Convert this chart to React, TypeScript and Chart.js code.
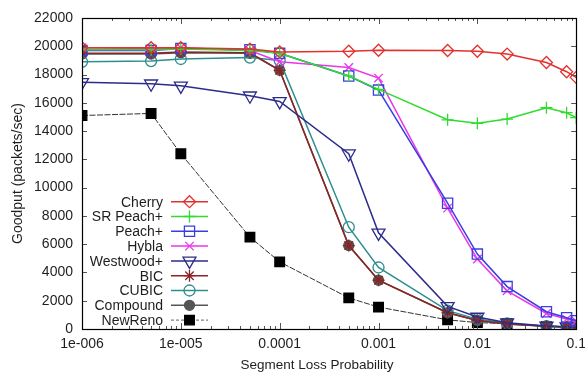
import React, { useEffect, useRef } from "react";
import { Chart, registerables } from "chart.js";
import { drawPoint } from "chart.js/helpers";

Chart.register(...registerables);

// ---- data ----
const lossProb = [1e-6, 5e-6, 1e-5, 5e-5, 1e-4, 5e-4, 1e-3, 5e-3, 1e-2, 2e-2, 5e-2, 8e-2, 1e-1];

const cherry = [19900, 19900, 19900, 19800, 19600, 19650, 19720, 19700, 19650, 19450, 18850, 18200, 17800];
const srPeach = [19750, 19750, 19800, 19700, 19500, 17900, 16950, 14800, 14550, 14850, 15650, 15300, 14950];
const peach = [19700, 19700, 19850, 19750, 19500, 17900, 16900, 8900, 5300, 3000, 1220, 800, 590];
const hybla = [19900, 19850, 19900, 19700, 18900, 18500, 17750, 8550, 4950, 2700, 1100, 700, 560];
const westwood = [17450, 17350, 17200, 16500, 16100, 12400, 6800, 1600, 850, 450, 220, 160, 130];
const bic = [19500, 19500, 19600, 19550, 18300, 5900, 3450, 1150, 600, 350, 200, 150, 120];
const cubic = [18900, 18950, 19100, 19200, 19000, 7200, 4350, 1300, 700, 400, 200, 150, 120];
const compound = [19450, 19450, 19550, 19500, 18300, 5900, 3450, 1150, 600, 350, 200, 150, 120];
const newReno = [15100, 15250, 12400, 6500, 4750, 2200, 1550, 650, 450, 380, 170, 140, 140];

const xTickValues = [1e-6, 1e-5, 1e-4, 1e-3, 1e-2, 1e-1];
const xTickLabels = ["1e-006", "1e-005", "0.0001", "0.001", "0.01", "0.1"];
const yMin = 0;
const yMax = 22000;
const yStep = 2000;
const xTitle = "Segment Loss Probability";
const yTitle = "Goodput (packets/sec)";

const FONT = "'Liberation Sans', Arial, sans-serif";
const TEXT = "#1e1e1e";

type Series = {
  label: string;
  data: number[];
  color: string;
  style: string;
  rotation?: number;
  radius: number;
  filled: boolean;
  width: number;
  dash?: number[];
};

const series: Series[] = [
  { label: "Cherry", data: cherry, color: "#e2322e", style: "rectRot", radius: 6, filled: false, width: 1.5 },
  { label: "SR Peach+", data: srPeach, color: "#2fdc2f", style: "cross", radius: 6, filled: false, width: 1.5 },
  { label: "Peach+", data: peach, color: "#3a3ee0", style: "rect", radius: 7.2, filled: false, width: 1.5 },
  { label: "Hybla", data: hybla, color: "#ea36ea", style: "crossRot", radius: 6, filled: false, width: 1.5 },
  { label: "Westwood+", data: westwood, color: "#2c2c8a", style: "triangle", rotation: 180, radius: 7.5, filled: false, width: 1.5 },
  { label: "BIC", data: bic, color: "#8c2424", style: "star", radius: 6, filled: false, width: 1.5 },
  { label: "CUBIC", data: cubic, color: "#2e8e8e", style: "circle", radius: 5.5, filled: false, width: 1.5 },
  { label: "Compound", data: compound, color: "#555555", style: "circle", radius: 5, filled: true, width: 1.5 },
  { label: "NewReno", data: newReno, color: "#000000", style: "rect", radius: 6.8, filled: true, width: 1, dash: [6, 1.5] },
];

const frameAndLegend = {
  id: "frameAndLegend",
  afterDatasetsDraw(chart: any) {
    const ctx = chart.ctx as CanvasRenderingContext2D;
    const { left, right, top, bottom } = chart.chartArea;
    const xs = chart.scales.x;
    const ys = chart.scales.y;
    ctx.save();
    // inner ticks
    ctx.strokeStyle = "#555555";
    ctx.lineWidth = 1;
    ctx.beginPath();
    for (let e = -6; e <= -1; e++) {
      for (let m = 1; m <= 9; m++) {
        const v = m * Math.pow(10, e);
        if (v > 0.1 + 1e-12) break;
        const x = Math.round(xs.getPixelForValue(v)) + 0.5;
        const len = m === 1 ? 6 : 3;
        ctx.moveTo(x, top);
        ctx.lineTo(x, top + len);
        ctx.moveTo(x, bottom);
        ctx.lineTo(x, bottom - len);
      }
    }
    for (let v = yMin; v <= yMax; v += yStep) {
      const y = Math.round(ys.getPixelForValue(v)) + 0.5;
      ctx.moveTo(left, y);
      ctx.lineTo(left + 5, y);
      ctx.moveTo(right, y);
      ctx.lineTo(right - 5, y);
    }
    ctx.stroke();
    // frame
    ctx.strokeStyle = "#000000";
    ctx.lineWidth = 1.2;
    ctx.strokeRect(Math.round(left) + 0.5, Math.round(top) + 0.5, Math.round(right - left), Math.round(bottom - top));

    // x axis title
    ctx.fillStyle = TEXT;
    ctx.font = "13.5px " + FONT;
    ctx.textAlign = "center";
    ctx.textBaseline = "middle";
    ctx.fillText(xTitle, 317, 365);

    // legend
    const textRight = 163;
    const lineL = 171;
    const lineR = 208;
    const mx = 189.5;
    const y0 = 201.7;
    const dy = 14.8;
    ctx.font = "14px " + FONT;
    ctx.textAlign = "right";
    ctx.textBaseline = "middle";
    series.forEach((s, i) => {
      const y = y0 + i * dy;
      ctx.fillStyle = TEXT;
      ctx.fillText(s.label, textRight, y + 1);
      ctx.strokeStyle = s.dash ? "#666666" : s.color;
      ctx.lineWidth = s.width;
      ctx.setLineDash(s.dash ? [3, 2] : []);
      ctx.beginPath();
      ctx.moveTo(lineL, y);
      ctx.lineTo(lineR, y);
      ctx.stroke();
      ctx.setLineDash([]);
      ctx.fillStyle = s.filled ? s.color : "rgba(0,0,0,0)";
      ctx.strokeStyle = s.color;
      ctx.lineWidth = 1.3;
      drawPoint(ctx, { pointStyle: s.style, rotation: s.rotation || 0, radius: s.radius, borderWidth: 1.3 } as any, mx, y);
    });
    ctx.restore();
  },
};

export default function App() {
  const ref = useRef<HTMLCanvasElement>(null);
  useEffect(() => {
    if (!ref.current) return;
    Chart.defaults.font.family = FONT;
    const chart = new Chart(ref.current, {
      type: "line",
      data: {
        datasets: series.map((s) => ({
          label: s.label,
          data: lossProb.map((x, i) => ({ x, y: s.data[i] })),
          borderColor: s.dash ? "#333333" : s.color,
          backgroundColor: s.filled ? s.color : "rgba(0,0,0,0)",
          borderWidth: s.width,
          borderDash: s.dash || [],
          pointStyle: s.style as any,
          pointRotation: s.rotation || 0,
          pointRadius: s.radius,
          pointBorderWidth: 1.3,
          pointBorderColor: s.color,
          pointBackgroundColor: s.filled ? s.color : "rgba(0,0,0,0)",
          tension: 0,
          fill: false,
        })),
      },
      options: {
        animation: false,
        responsive: false,
        devicePixelRatio: 1,
        layout: { padding: { top: 18, right: 8, left: 0, bottom: 0 } },
        plugins: { legend: { display: false }, tooltip: { enabled: false }, title: { display: false } },
        scales: {
          x: {
            type: "logarithmic",
            min: 1e-6,
            max: 0.1,
            grid: { display: false, drawTicks: false },
            border: { display: false },
            afterBuildTicks: (axis: any) => {
              axis.ticks = xTickValues.map((v) => ({ value: v }));
            },
            afterFit: (axis: any) => {
              axis.height = 43;
              axis.paddingLeft = 0;
              axis.paddingRight = 0;
            },
            ticks: {
              autoSkip: false,
              maxRotation: 0,
              padding: 7,
              color: TEXT,
              font: { size: 14, family: FONT },
              callback: (_v: any, i: number) => xTickLabels[i],
            },
            title: { display: false },
          },
          y: {
            min: yMin,
            max: yMax,
            grid: { display: false, drawTicks: false },
            border: { display: false },
            afterFit: (axis: any) => {
              axis.width = 82;
              axis.paddingTop = 0;
              axis.paddingBottom = 0;
            },
            ticks: {
              stepSize: yStep,
              padding: 9,
              color: TEXT,
              font: { size: 14, family: FONT },
              callback: (v: any) => String(v),
            },
            title: {
              display: true,
              text: yTitle,
              color: TEXT,
              font: { size: 14, family: FONT },
              padding: { top: 10, bottom: 0 },
            },
          },
        },
      },
      plugins: [frameAndLegend],
    });
    return () => chart.destroy();
  }, []);
  return (
    <div style={{ position: "absolute", left: 0, top: 0, width: 585, height: 372, background: "#ffffff" }}>
      <canvas ref={ref} width={585} height={372} style={{ display: "block" }} />
    </div>
  );
}
